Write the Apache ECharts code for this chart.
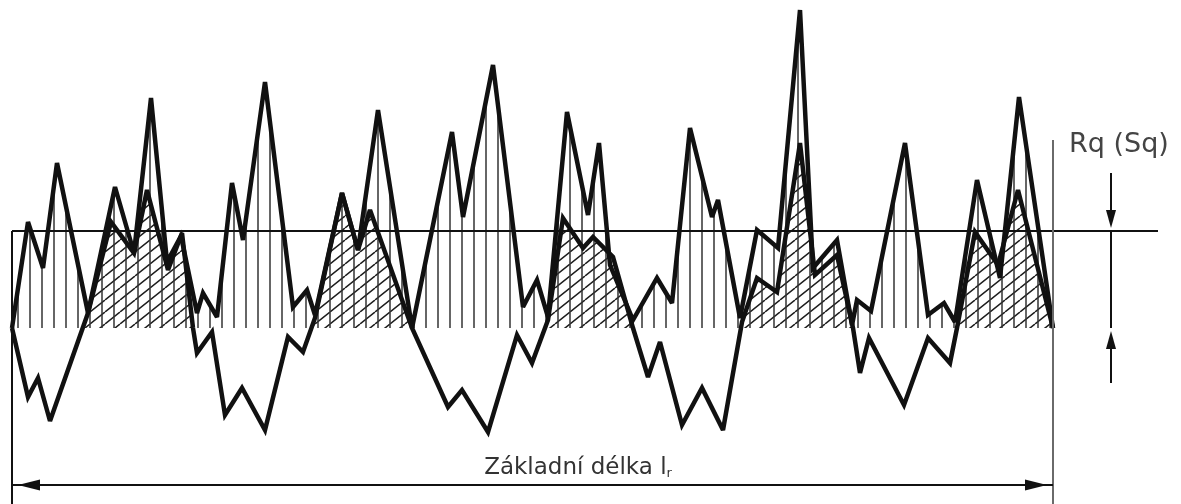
<!DOCTYPE html>
<html>
<head>
<meta charset="utf-8">
<script src="https://cdn.jsdelivr.net/npm/echarts@6/dist/echarts.min.js"></script>
<style>
  html, body { margin: 0; padding: 0; background: #fff; }
  #chart { width: 1181px; height: 504px; }
</style>
</head>
<body>
<div id="chart"></div>
<script>
// Squared-deviation curve (always above the mean line): position along the sampling length, height
const squaredX = [0,16,31,45,76, 103,122,139,155,169, 185,191,205,220,231, 253,281,295,303,330,
                  346,366,400,440,451, 481,511,525,536,555, 576,587,598,621,645, 660,678,700,706,728,
                  745,766,788,801,825, 840,845,859,893,916, 932,943,965,988,1007, 1041];
const squaredY = [0,106,60,165,15, 141,75,230,66,92, 15,35,11,145,88, 246,21,38,13,135,
                  78,218,0,196,111, 263,21,48,11,216, 113,185,63,8,50, 25,200,111,128,10,
                  98,80,318,60,88, 3,28,17,185,13, 25,6,148,50,231, 0];

// Roughness profile around the mean line
const profileX = [0,16,26,38,76, 99,122,135,156,170, 181,185,200,213,230, 253,276,291,303,330,
                  346,358,400,436,450, 476,505,520,536,551, 571,581,601,621,636, 648,670,690,711,730,
                  745,765,788,803,825, 841,848,857,892,916, 938,945,963,986,1006, 1041];
const profileY = [0,-69,-50,-93,15, 106,75,138,58,95, 0,-25,-4,-87,-60, -102,-9,-24,10,135,
                  78,118,0,-79,-62, -104,-7,-35,8,110, 80,91,71,0,-49, -14,-97,-60,-102,6,
                  50,36,185,53,73, 0,-45,-10,-77,-10, -35,0,96,63,138, 0];

// Reference levels
const rqLevel = 97;          // Rq above the mean line
const baseLength = 1041;     // sampling length lr
const refLineEnd = 1146;     // where the two level lines stop
const rqArrowX = 1099;       // position of the Rq dimension arrows
const lengthArrowY = -157;   // height of the lr dimension arrow

const xMax = 1169, yMin = -176, yMax = 328;

const zip = (xs, ys) => xs.map((x, i) => [x, ys[i]]);

// Hatch patterns
function verticalHatch() {
  const c = document.createElement('canvas');
  c.width = 12; c.height = 12;
  const g = c.getContext('2d');
  g.strokeStyle = '#333';
  g.lineWidth = 1.5;
  g.beginPath(); g.moveTo(6, 0); g.lineTo(6, 12); g.stroke();
  return c;
}
function diagonalHatch() {
  const w = 15, h = 12;
  const c = document.createElement('canvas');
  c.width = w; c.height = h;
  const g = c.getContext('2d');
  g.strokeStyle = '#1e1e1e';
  g.lineWidth = 1.5;
  g.beginPath();
  for (let k = -1; k <= 1; k++) {
    g.moveTo(k * w, h); g.lineTo(k * w + w, 0);
  }
  g.stroke();
  return c;
}

const chart = echarts.init(document.getElementById('chart'), null, { renderer: 'canvas' });

const black = '#111';
const arrowEnd = (coord, size) => ({ coord, symbol: 'triangle', symbolSize: size });
const plainEnd = (coord) => ({ coord, symbol: 'none' });

chart.setOption({
  animation: false,
  backgroundColor: '#fff',
  grid: { left: 12, right: 0, top: 0, bottom: 0 },
  xAxis: { type: 'value', min: 0, max: xMax, show: false },
  yAxis: { type: 'value', min: yMin, max: yMax, show: false },
  series: [
    {
      name: 'profile-fill',
      type: 'line',
      z: 1,
      data: zip(profileX, profileY),
      showSymbol: false,
      lineStyle: { opacity: 0 },
      areaStyle: { color: { image: diagonalHatch(), repeat: 'repeat' }, opacity: 1 },
      silent: true
    },
    {
      name: 'squared-fill',
      type: 'line',
      z: 1,
      data: zip(squaredX, squaredY),
      showSymbol: false,
      lineStyle: { opacity: 0 },
      areaStyle: { color: { image: verticalHatch(), repeat: 'repeat' }, opacity: 1 },
      silent: true
    },
    {
      // keeps the hatching above the mean line only
      name: 'below-mean',
      type: 'line',
      data: [],
      silent: true,
      markArea: {
        z: 3,
        silent: true,
        itemStyle: { color: '#fff', opacity: 1, borderWidth: 0 },
        data: [[{ coord: [-20, yMin] }, { coord: [baseLength, 0] }]]
      }
    },
    {
      name: 'squared',
      type: 'line',
      z: 4,
      data: zip(squaredX, squaredY),
      showSymbol: false,
      lineStyle: { color: black, width: 4.5, join: 'miter', miterLimit: 3 },
      silent: true
    },
    {
      name: 'profile',
      type: 'line',
      z: 4,
      data: zip(profileX, profileY),
      showSymbol: false,
      lineStyle: { color: black, width: 4.5, join: 'miter', miterLimit: 3 },
      silent: true
    },
    {
      name: 'dimensions',
      type: 'line',
      data: [],
      silent: true,
      markLine: {
        z: 5,
        silent: true,
        animation: false,
        symbol: 'none',
        label: { show: false },
        emphasis: { disabled: true },
        lineStyle: { color: black, width: 2, type: 'solid' },
        data: [
          // Rq level and mean line
          [plainEnd([0, rqLevel]), plainEnd([refLineEnd, rqLevel])],
          [plainEnd([-2, 0]), plainEnd([refLineEnd, 0])],
          // left border of the sampling length
          [plainEnd([0, rqLevel]), plainEnd([0, yMin])],
          // right border of the sampling length
          [{ coord: [baseLength, 188], symbol: 'none', lineStyle: { color: '#6a6a6a', width: 2 } },
           plainEnd([baseLength, yMin])],
          // lr dimension line
          [plainEnd([0, lengthArrowY]), plainEnd([baseLength, lengthArrowY])],
          [arrowEnd([17, lengthArrowY], [11, 22]), arrowEnd([1024, lengthArrowY], [11, 22])],
          // Rq dimension arrows
          [plainEnd([rqArrowX, 155]), arrowEnd([rqArrowX, 109], [10, 18])],
          [plainEnd([rqArrowX, rqLevel]), plainEnd([rqArrowX, 0])],
          [plainEnd([rqArrowX, -55]), arrowEnd([rqArrowX, -12], [10, 18])]
        ]
      }
    }
  ],
  graphic: [
    {
      type: 'text',
      z: 20,
      x: 1069, y: 158,
      style: {
        text: 'Rq (Sq)',
        fill: '#444',
        font: '27px "DejaVu Sans", sans-serif',
        textAlign: 'left',
        textVerticalAlign: 'bottom'
      },
      silent: true
    },
    {
      type: 'text',
      z: 20,
      x: 578, y: 480,
      style: {
        text: 'Základní délka l{s|r}',
        fill: '#333',
        font: '23px "DejaVu Sans", sans-serif',
        textAlign: 'center',
        textVerticalAlign: 'bottom',
        rich: {
          s: { fill: '#333', fontSize: 13, fontFamily: '"DejaVu Sans", sans-serif', verticalAlign: 'bottom' }
        }
      },
      silent: true
    }
  ]
});
</script>
</body>
</html>
